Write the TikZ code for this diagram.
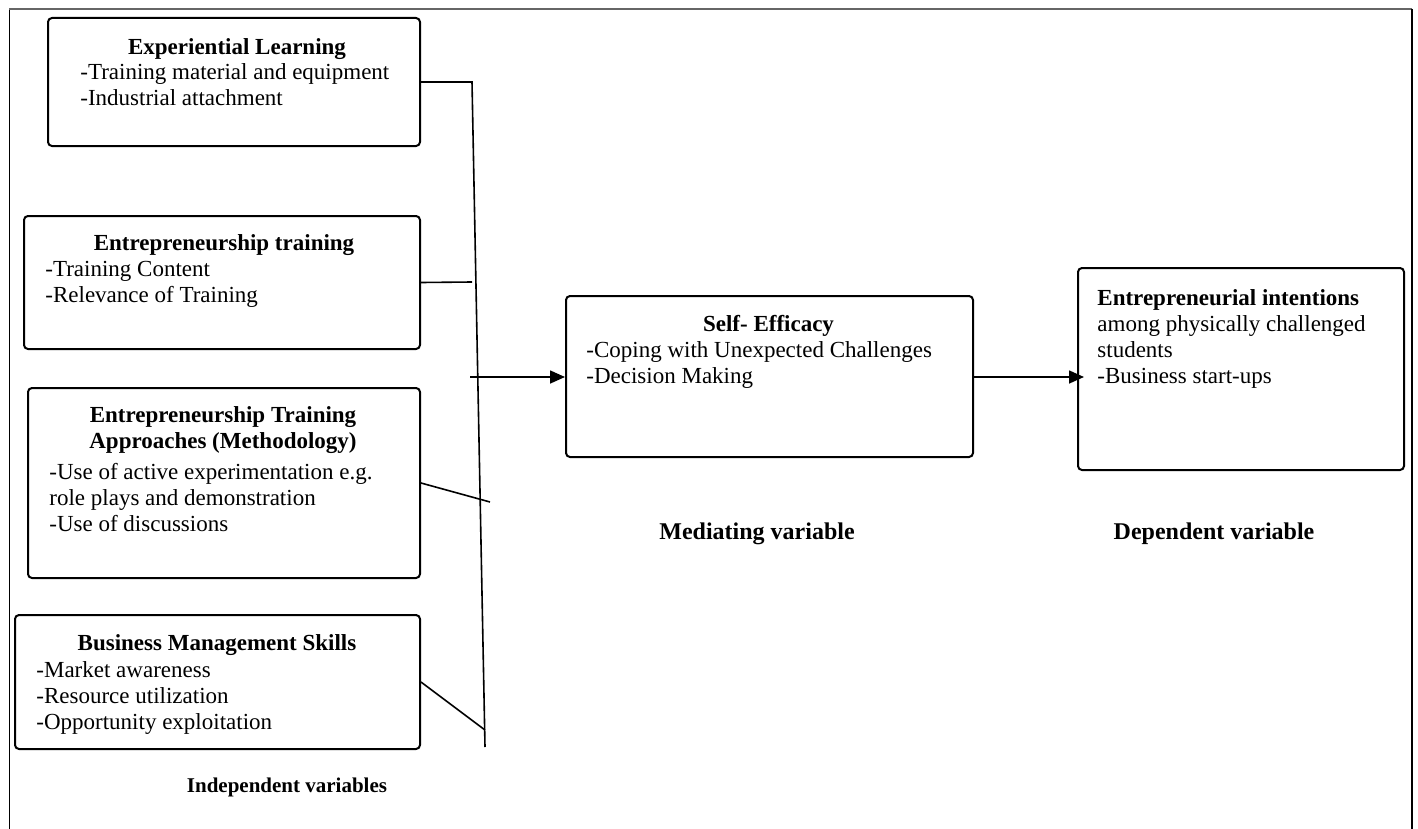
\documentclass[tikz,border=0pt]{standalone}
\usepackage{fontspec}
\setmainfont{Liberation Serif}
\usetikzlibrary{arrows.meta}
\begin{document}
\begin{tikzpicture}[x=0.5pt,y=-0.5pt,
  box/.style={draw, line width=1pt, rounded corners=2pt, inner sep=0pt, anchor=north west},
  ttl/.style={font=\fontsize{11.5}{13}\selectfont\bfseries, inner sep=0pt, anchor=north, align=center},
  body/.style={font=\fontsize{11.5}{13}\selectfont, inner sep=0pt, anchor=north west, align=left},
  conn/.style={line width=0.8pt},
  arr/.style={line width=0.8pt, -{Triangle[length=7.5pt,width=6.5pt]}},
  lbl/.style={font=\fontsize{12}{14}\selectfont\bfseries, inner sep=0pt, anchor=base}]
\useasboundingbox (0,0) rectangle (1418,829);
% outer frame
\draw[line width=0.5pt] (9,829) -- (9,9);
\draw[line width=0.6pt, black!60] (9,9) -- (1412,9);
\draw[line width=1.2pt] (1412,9) -- (1412,829);

% boxes
\node[box, minimum width=186pt, minimum height=64pt] (b1) at (47,17) {};
\node[box, minimum width=198pt, minimum height=66.5pt] (b2) at (23,215) {};
\node[box, minimum width=196pt, minimum height=95pt] (b3) at (27,387) {};
\node[box, minimum width=202.5pt, minimum height=67pt] (b4) at (14,614) {};
\node[box, minimum width=203.5pt, minimum height=80.5pt] (se) at (565,295) {};
\node[box, minimum width=163pt, minimum height=101pt] (ei) at (1077,267) {};

% texts
\node[ttl] (t1) at (237,38.5) {Experiential Learning};
\node[body] (d1) at (80,63) {-Training material and equipment\\-Industrial attachment};
\node[ttl] (t2) at (224,234.5) {Entrepreneurship training};
\node[body] (d2) at (45,261) {-Training Content\\-Relevance of Training};
\node[ttl] (t3) at (223,406.5) {Entrepreneurship Training\\Approaches (Methodology)};
\node[body] (d3) at (49,463) {-Use of active experimentation e.g.\\role plays and demonstration\\-Use of discussions};
\node[ttl] (t4) at (217,634.5) {Business Management Skills};
\node[body] (d4) at (36,661) {-Market awareness\\-Resource utilization\\-Opportunity exploitation};
\node[ttl] (t5) at (768.5,314.5) {Self- Efficacy};
\node[body] (d5) at (586,341) {-Coping with Unexpected Challenges\\-Decision Making};
\node[body] (d6) at (1097,289) {\textbf{Entrepreneurial intentions}\\among physically challenged\\students\\-Business start-ups};

% labels
\node[lbl, font=\fontsize{10.5}{12}\selectfont\bfseries] (l1) at (287,792) {Independent variables};
\node[lbl] (l2) at (757,539) {Mediating variable};
\node[lbl] (l3) at (1214,539) {Dependent variable};

% connectors
\coordinate (vtop) at (472,82);
\coordinate (vbot) at (485,747);
\coordinate (c2) at (472,282);
\coordinate (c3) at (490,502);
\coordinate (c4) at (485,730);
\coordinate (a0) at (470,377);
\coordinate (a1) at (1084,377);
\draw[conn] (b1.east |- vtop) -- (vtop) -- (vbot);
\draw[conn] (b2.east) -- (c2);
\draw[conn] (b3.east) -- (c3);
\draw[conn] (b4.east) -- (c4);
\draw[arr] (a0) -- (a0 -| se.west);
\draw[arr] (a0 -| se.east) -- (a1);
\end{tikzpicture}
\end{document}
